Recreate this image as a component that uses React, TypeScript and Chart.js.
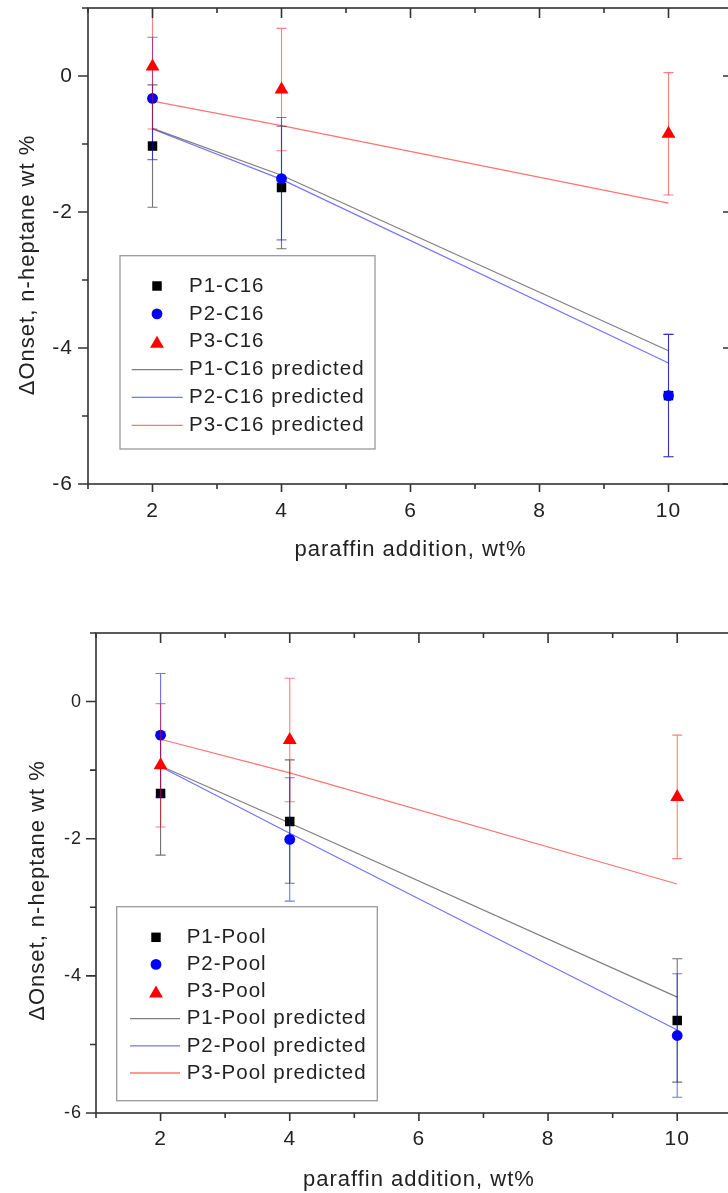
import React, { useEffect, useRef } from 'react';
import { Chart, registerables } from 'chart.js';

Chart.register(...registerables);

// ---------------- data ----------------
const xValues = [2, 4, 10];

const xTickValues = [2, 4, 6, 8, 10];
const xTickLabels = ['2', '4', '6', '8', '10'];
const yTickValues = [0, -2, -4, -6];
const yTickLabels = ['0', '-2', '-4', '-6'];

const xAxisMin = 1;
const xAxisMax = 11;
const yAxisMin = -6;
const yAxisMax = 1;

const xTitle = 'paraffin addition, wt%';
const yTitle = 'ΔOnset, n-heptane wt %';

// top panel (C16)
const c16Names = ['P1-C16', 'P2-C16', 'P3-C16', 'P1-C16 predicted', 'P2-C16 predicted', 'P3-C16 predicted'];
const c16P1 = [-1.03, -1.64, -4.7];
const c16P2 = [-0.33, -1.51, -4.7];
const c16P3 = [0.14, -0.2, -0.85];
const c16P1Err = [0.9, 0.9, 0.9];
const c16P2Err = [0.9, 0.9, 0.9];
const c16P3Err = [0.92, 0.9, 0.9];
const c16P1Pred = [-0.77, -1.46, -4.04];
const c16P2Pred = [-0.78, -1.52, -4.22];
const c16P3Pred = [-0.37, -0.73, -1.87];

// bottom panel (Pool)
const poolNames = ['P1-Pool', 'P2-Pool', 'P3-Pool', 'P1-Pool predicted', 'P2-Pool predicted', 'P3-Pool predicted'];
const poolP1 = [-1.34, -1.75, -4.65];
const poolP2 = [-0.49, -2.01, -4.87];
const poolP3 = [-0.93, -0.56, -1.39];
const poolP1Err = [0.9, 0.9, 0.9];
const poolP2Err = [0.9, 0.9, 0.9];
const poolP3Err = [0.9, 0.9, 0.9];
const poolP1Pred = [-0.94, -1.77, -4.31];
const poolP2Pred = [-0.95, -1.92, -4.79];
const poolP3Pred = [-0.55, -1.04, -2.66];

// ---------------- styles ----------------
const FONT = "'Liberation Sans', Arial, Helvetica, sans-serif";
const TEXT = '#222222';
const AXIS = '#333333';
const LS = '1px';

const seriesStyle = [
  { pointStyle: 'rect', radius: 6.7, color: '#000000', err: 'rgba(0,0,0,0.55)' },
  { pointStyle: 'circle', radius: 5.4, color: '#0000ff', err: 'rgba(0,0,255,0.55)' },
  { pointStyle: 'triangle', radius: 8, color: '#ff0000', err: 'rgba(255,0,0,0.5)' },
];
const lineStyle = ['rgba(0,0,0,0.5)', 'rgba(40,40,255,0.65)', 'rgba(255,40,40,0.65)'];

const topPanel = {
  names: c16Names,
  vals: [c16P1, c16P2, c16P3],
  errs: [c16P1Err, c16P2Err, c16P3Err],
  preds: [c16P1Pred, c16P2Pred, c16P3Pred],
  top: 0, width: 760, height: 580,
  padding: { left: 0, top: 5, right: 27, bottom: 0 },
  yAxisW: 88, xAxisH: 96,
  yTickSize: 21, yTickPad: 15, xTickSize: 21, xTickPad: 14.5, xTitlePad: 16.5,
  yTitleDX: 60, yTitleDY: 19,
  legend: { dx: 32, dy: 247.7, w: 255, h: 193.3, row0: 30.3, gap: 27.86, markerX: 37, lineX0: 11.7, lineX1: 62.7, textX: 69 },
};

const bottomPanel = {
  names: poolNames,
  vals: [poolP1, poolP2, poolP3],
  errs: [poolP1Err, poolP2Err, poolP3Err],
  preds: [poolP1Pred, poolP2Pred, poolP3Pred],
  top: 610, width: 770, height: 583,
  padding: { left: 0, top: 23, right: 28.2, bottom: 0 },
  yAxisW: 96, xAxisH: 80,
  yTickSize: 18, yTickPad: 14, xTickSize: 21, xTickPad: 14, xTitlePad: 0,
  yTitleDX: 58, yTitleDY: 17.5,
  legend: { dx: 20.7, dy: 273.7, w: 260.6, h: 194, row0: 30.6, gap: 27.14, markerX: 39.3, lineX0: 13.3, lineX1: 63.3, textX: 70 },
};

function labelFor(v: number, values: number[], labels: string[]) {
  const i = values.indexOf(v);
  return i >= 0 ? labels[i] : '';
}

function drawMarker(ctx: CanvasRenderingContext2D, style: string, x: number, y: number, r: number, color: string) {
  ctx.fillStyle = color;
  ctx.beginPath();
  if (style === 'rect') {
    const h = r * Math.SQRT1_2;
    ctx.rect(x - h, y - h, 2 * h, 2 * h);
  } else if (style === 'circle') {
    ctx.arc(x, y, r, 0, Math.PI * 2);
  } else {
    const yy = y + r * 0.25;
    ctx.moveTo(x, yy - r);
    ctx.lineTo(x + 0.866 * r, yy + 0.5 * r);
    ctx.lineTo(x - 0.866 * r, yy + 0.5 * r);
    ctx.closePath();
  }
  ctx.fill();
}

function makeChart(canvas: HTMLCanvasElement, p: any) {
  const pts = (ys: number[]) => xValues.map((x, i) => ({ x, y: ys[i] }));
  const datasets: any[] = [];
  for (let k = 0; k < 3; k++) {
    const s = seriesStyle[k];
    datasets.push({
      label: p.names[k],
      data: pts(p.vals[k]),
      showLine: false,
      pointStyle: s.pointStyle,
      pointRadius: s.radius,
      pointHoverRadius: s.radius,
      backgroundColor: s.color,
      borderColor: s.color,
      borderWidth: 0,
      order: 3 - k,
      errors: p.errs[k],
      errColor: s.err,
    });
  }
  for (let k = 0; k < 3; k++) {
    datasets.push({
      label: p.names[k + 3],
      data: pts(p.preds[k]),
      showLine: true,
      borderColor: lineStyle[k],
      backgroundColor: lineStyle[k],
      borderWidth: 1.2,
      pointRadius: 0,
      tension: 0,
      order: 6 - k,
    });
  }

  const decor = {
    id: 'decor',
    beforeLayout(chart: any) {
      chart.ctx.letterSpacing = LS;
    },
    beforeDraw(chart: any) {
      chart.ctx.letterSpacing = LS;
    },
    beforeDatasetDraw(chart: any, args: any) {
      const ds = chart.data.datasets[args.index];
      if (!ds.errors) return;
      const ctx = chart.ctx;
      const a = chart.chartArea;
      const xs = chart.scales.x;
      const ys = chart.scales.y;
      ctx.save();
      ctx.beginPath();
      ctx.rect(a.left, a.top, a.right - a.left, a.bottom - a.top);
      ctx.clip();
      ctx.strokeStyle = ds.errColor;
      ctx.lineWidth = 1.1;
      ds.data.forEach((pt: any, i: number) => {
        const px = xs.getPixelForValue(pt.x);
        const y1 = ys.getPixelForValue(pt.y + ds.errors[i]);
        const y2 = ys.getPixelForValue(pt.y - ds.errors[i]);
        ctx.beginPath();
        ctx.moveTo(px, y1);
        ctx.lineTo(px, y2);
        ctx.moveTo(px - 5, y1);
        ctx.lineTo(px + 5, y1);
        ctx.moveTo(px - 5, y2);
        ctx.lineTo(px + 5, y2);
        ctx.stroke();
      });
      ctx.restore();
    },
    afterDatasetsDraw(chart: any) {
      const ctx = chart.ctx;
      const { left, right, top, bottom } = chart.chartArea;
      const xs = chart.scales.x;
      const ys = chart.scales.y;
      ctx.save();
      ctx.letterSpacing = LS;
      // frame
      ctx.strokeStyle = AXIS;
      ctx.lineWidth = 1.6;
      ctx.strokeRect(left, top, right - left, bottom - top);
      ctx.beginPath();
      xs.ticks.forEach((t: any) => {
        const v = t.value;
        const px = xs.getPixelForValue(v);
        const major = xTickValues.indexOf(v) >= 0;
        ctx.moveTo(px, bottom);
        ctx.lineTo(px, bottom + (major ? 8 : 5));
        ctx.moveTo(px, top);
        ctx.lineTo(px, top + (major ? 10 : 5));
      });
      ys.ticks.forEach((t: any) => {
        const v = t.value;
        const py = ys.getPixelForValue(v);
        const major = yTickValues.indexOf(v) >= 0;
        ctx.moveTo(left, py);
        ctx.lineTo(left - (major ? 10 : 6), py);
        ctx.moveTo(right, py);
        ctx.lineTo(right - (major ? 10 : 5), py);
      });
      ctx.stroke();

      // y title
      ctx.save();
      ctx.translate(left - p.yTitleDX, (top + bottom) / 2 + p.yTitleDY);
      ctx.rotate(-Math.PI / 2);
      ctx.font = `22px ${FONT}`;
      ctx.fillStyle = TEXT;
      ctx.textAlign = 'center';
      ctx.textBaseline = 'middle';
      ctx.fillText(yTitle, 0, 0);
      ctx.restore();

      // legend
      const L = p.legend;
      const bx = left + L.dx;
      const by = top + L.dy;
      ctx.strokeStyle = '#9a9a9a';
      ctx.lineWidth = 1.3;
      ctx.strokeRect(bx, by, L.w, L.h);
      ctx.font = `20.5px ${FONT}`;
      ctx.textAlign = 'left';
      ctx.textBaseline = 'middle';
      const dsets = chart.data.datasets;
      const orderIdx = [0, 1, 2, 3, 4, 5];
      orderIdx.forEach((di, row) => {
        const ds = dsets[di];
        const cy = by + L.row0 + row * L.gap;
        if (ds.showLine) {
          ctx.strokeStyle = ds.borderColor;
          ctx.lineWidth = 1.3;
          ctx.beginPath();
          ctx.moveTo(bx + L.lineX0, cy);
          ctx.lineTo(bx + L.lineX1, cy);
          ctx.stroke();
        } else {
          drawMarker(ctx, ds.pointStyle, bx + L.markerX, cy, ds.pointRadius, ds.backgroundColor);
        }
        ctx.fillStyle = TEXT;
        ctx.fillText(ds.label, bx + L.textX, cy);
      });
      ctx.restore();
    },
  };

  return new Chart(canvas, {
    type: 'scatter',
    data: { datasets },
    options: {
      responsive: false,
      maintainAspectRatio: false,
      animation: false,
      events: [],
      layout: { padding: p.padding },
      plugins: {
        legend: { display: false },
        tooltip: { enabled: false },
        title: { display: false },
      },
      scales: {
        x: {
          type: 'linear',
          min: xAxisMin,
          max: xAxisMax,
          afterFit: (s: any) => {
            s.height = p.xAxisH;
            s.paddingLeft = 0;
            s.paddingRight = 0;
          },
          grid: { display: false, drawTicks: false, tickLength: 0 },
          border: { display: false },
          ticks: {
            stepSize: 1,
            autoSkip: false,
            maxRotation: 0,
            padding: p.xTickPad,
            color: TEXT,
            font: { family: FONT, size: p.xTickSize },
            callback: (v: any) => labelFor(Number(v), xTickValues, xTickLabels),
          },
          title: {
            display: true,
            text: xTitle,
            color: TEXT,
            font: { family: FONT, size: 22 },
            padding: { top: 0, bottom: p.xTitlePad },
          },
        },
        y: {
          type: 'linear',
          min: yAxisMin,
          max: yAxisMax,
          afterFit: (s: any) => {
            s.width = p.yAxisW;
            s.paddingTop = 0;
            s.paddingBottom = 0;
          },
          grid: { display: false, drawTicks: false, tickLength: 0 },
          border: { display: false },
          ticks: {
            stepSize: 1,
            autoSkip: false,
            padding: p.yTickPad,
            color: TEXT,
            font: { family: FONT, size: p.yTickSize },
            callback: (v: any) => labelFor(Number(v), yTickValues, yTickLabels),
          },
        },
      },
    } as any,
    plugins: [decor as any],
  });
}

function Panel({ p }: { p: any }) {
  const ref = useRef<HTMLCanvasElement | null>(null);
  useEffect(() => {
    if (!ref.current) return;
    const chart = makeChart(ref.current, p);
    return () => chart.destroy();
  }, [p]);
  return (
    <div style={{ position: 'absolute', left: 0, top: p.top, width: p.width, height: p.height }}>
      <canvas
        ref={ref}
        width={p.width}
        height={p.height}
        style={{ display: 'block', width: p.width, height: p.height }}
      />
    </div>
  );
}

export default function App() {
  return (
    <div
      style={{
        position: 'absolute',
        left: 0,
        top: 0,
        width: 728,
        height: 1193,
        overflow: 'hidden',
        background: '#ffffff',
      }}
    >
      <Panel p={topPanel} />
      <Panel p={bottomPanel} />
    </div>
  );
}
